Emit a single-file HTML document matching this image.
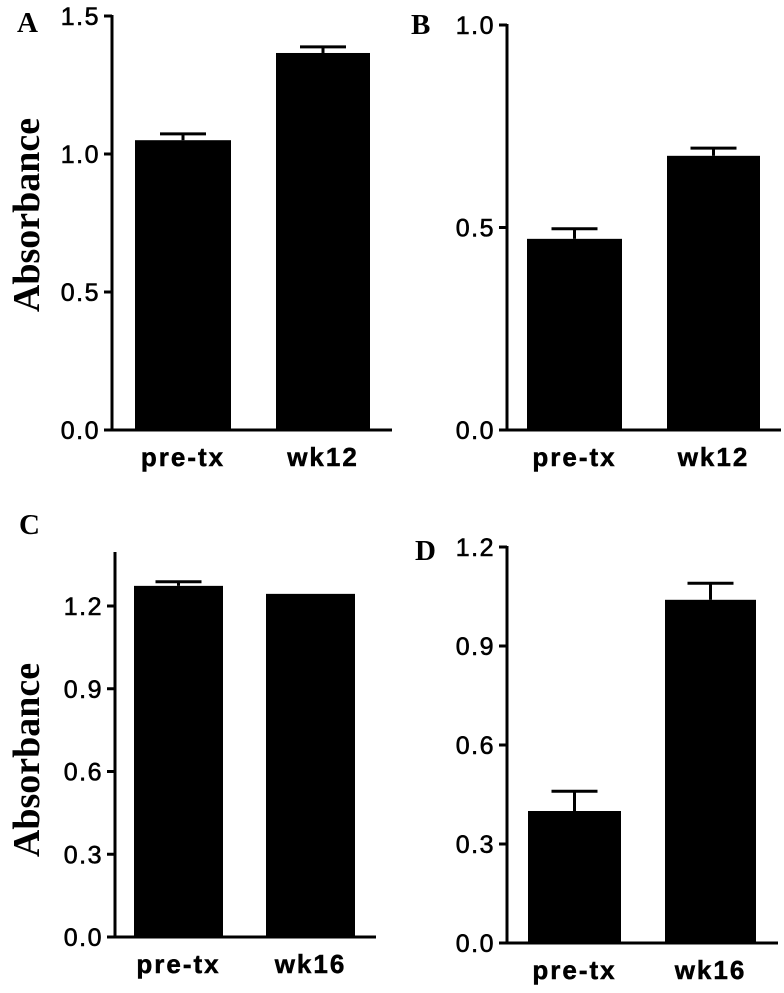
<!DOCTYPE html>
<html><head><meta charset="utf-8"><style>
body{margin:0;background:#fff;}
svg text{font-family:"Liberation Sans",Arial,sans-serif;}
.serif{font-family:"Liberation Serif","Times New Roman",serif !important;font-weight:bold;}
</style></head><body>
<svg id="fig" width="784" height="988" viewBox="0 0 784 988" xmlns="http://www.w3.org/2000/svg"></svg>
<script>
const categoriesAB = ["pre-tx", "wk12"];
const categoriesCD = ["pre-tx", "wk16"];
const valuesA = [1.05, 1.366];
const errorsA = [0.023, 0.022];
const valuesB = [0.472, 0.677];
const errorsB = [0.025, 0.019];
const valuesC = [1.273, 1.244];
const errorsC = [0.015, 0];
const valuesD = [0.40, 1.04];
const errorsD = [0.06, 0.05];
const ticksA = [0, 0.5, 1.0, 1.5];
const ticksB = [0, 0.5, 1.0];
const ticksCD = [0, 0.3, 0.6, 0.9, 1.2];

const NS = "http://www.w3.org/2000/svg";
const svg = document.getElementById("fig");
function mk(tag, attrs, parent){
  const e = document.createElementNS(NS, tag);
  for (const k in attrs) e.setAttribute(k, attrs[k]);
  (parent||svg).appendChild(e);
  return e;
}

const panels = [
  {id:"a", letter:"A", lx:17, ly:32, axisX:112, axisTop:15, y0:430, yMax:1.5, yMaxPix:16, xEnd:392, bars:[[135,231],[276,370]], cats:categoriesAB, vals:valuesA, errs:errorsA, ticks:ticksA, dec:1, ylabel:true, ylc:215},
  {id:"b", letter:"B", lx:411, ly:34, axisX:507, axisTop:24, y0:430, yMax:1.0, yMaxPix:25, xEnd:781, bars:[[527,622],[667,760]], cats:categoriesAB, vals:valuesB, errs:errorsB, ticks:ticksB, dec:1, ylabel:false},
  {id:"c", letter:"C", lx:19, ly:534, axisX:115, axisTop:552, y0:937, yMax:1.2, yMaxPix:606, xEnd:376, bars:[[134,223],[266,355]], cats:categoriesCD, vals:valuesC, errs:errorsC, ticks:ticksCD, dec:1, ylabel:true, ylc:760},
  {id:"d", letter:"D", lx:415, ly:560, axisX:507, axisTop:546, y0:943, yMax:1.2, yMaxPix:547, xEnd:778, bars:[[528,621],[665,756]], cats:categoriesCD, vals:valuesD, errs:errorsD, ticks:ticksCD, dec:1, ylabel:false}
];

panels.forEach(p => {
  const g = mk("g", {});
  
  
  const scale = (p.y0 - p.yMaxPix) / p.yMax;
  const y = v => p.y0 - v * scale;

  const letter = mk("text", {x:p.lx, y:p.ly, "font-size":29, class:"serif"}, g);
  letter.textContent = p.letter;
  
  

  if (p.ylabel) {
    const t = mk("text", {x:0, y:0, "font-size":38, class:"serif", "text-anchor":"middle", transform:`translate(39,${p.ylc}) rotate(-90)`}, g);
    t.textContent = "Absorbance";
    
    
  }

  const ya = mk("line", {x1:p.axisX, y1:p.axisTop, x2:p.axisX, y2:p.y0, stroke:"#000", "stroke-width":3}, g);
  
  
  const xa = mk("line", {x1:p.axisX - 8, y1:p.y0, x2:p.xEnd, y2:p.y0, stroke:"#000", "stroke-width":3}, g);
  
  

  p.ticks.forEach(tv => {
    const ty = y(tv);
    const tk = mk("line", {x1:p.axisX - 8, y1:ty, x2:p.axisX, y2:ty, stroke:"#000", "stroke-width":3}, g);
    
    
    const tl = mk("text", {x:p.axisX - 12, y:ty + 9, "font-size":25, "letter-spacing":"1.5", "text-anchor":"end", stroke:"#000", "stroke-width":0.6}, g);
    tl.textContent = tv.toFixed(p.dec);
    
    
  });

  p.vals.forEach((v, i) => {
    const [x1, x2] = p.bars[i];
    const cx = (x1 + x2) / 2;
    const r = mk("rect", {x:x1, y:y(v), width:x2 - x1, height:p.y0 - y(v), fill:"#000"}, g);
    
    
    const e = p.errs[i];
    if (e > 0) {
      const eg = mk("g", {}, g);
      
      
      mk("line", {x1:cx, y1:y(v), x2:cx, y2:y(v + e), stroke:"#000", "stroke-width":3}, eg);
      mk("line", {x1:cx - 23, y1:y(v + e), x2:cx + 23, y2:y(v + e), stroke:"#000", "stroke-width":3}, eg);
    }
    const cl = mk("text", {x:cx, y:p.y0 + 36, "font-size":26, "font-weight":"bold", "letter-spacing":"2", "text-anchor":"middle", stroke:"#000", "stroke-width":0.5}, g);
    cl.textContent = p.cats[i];
    
    
  });
});
</script>
</body></html>
